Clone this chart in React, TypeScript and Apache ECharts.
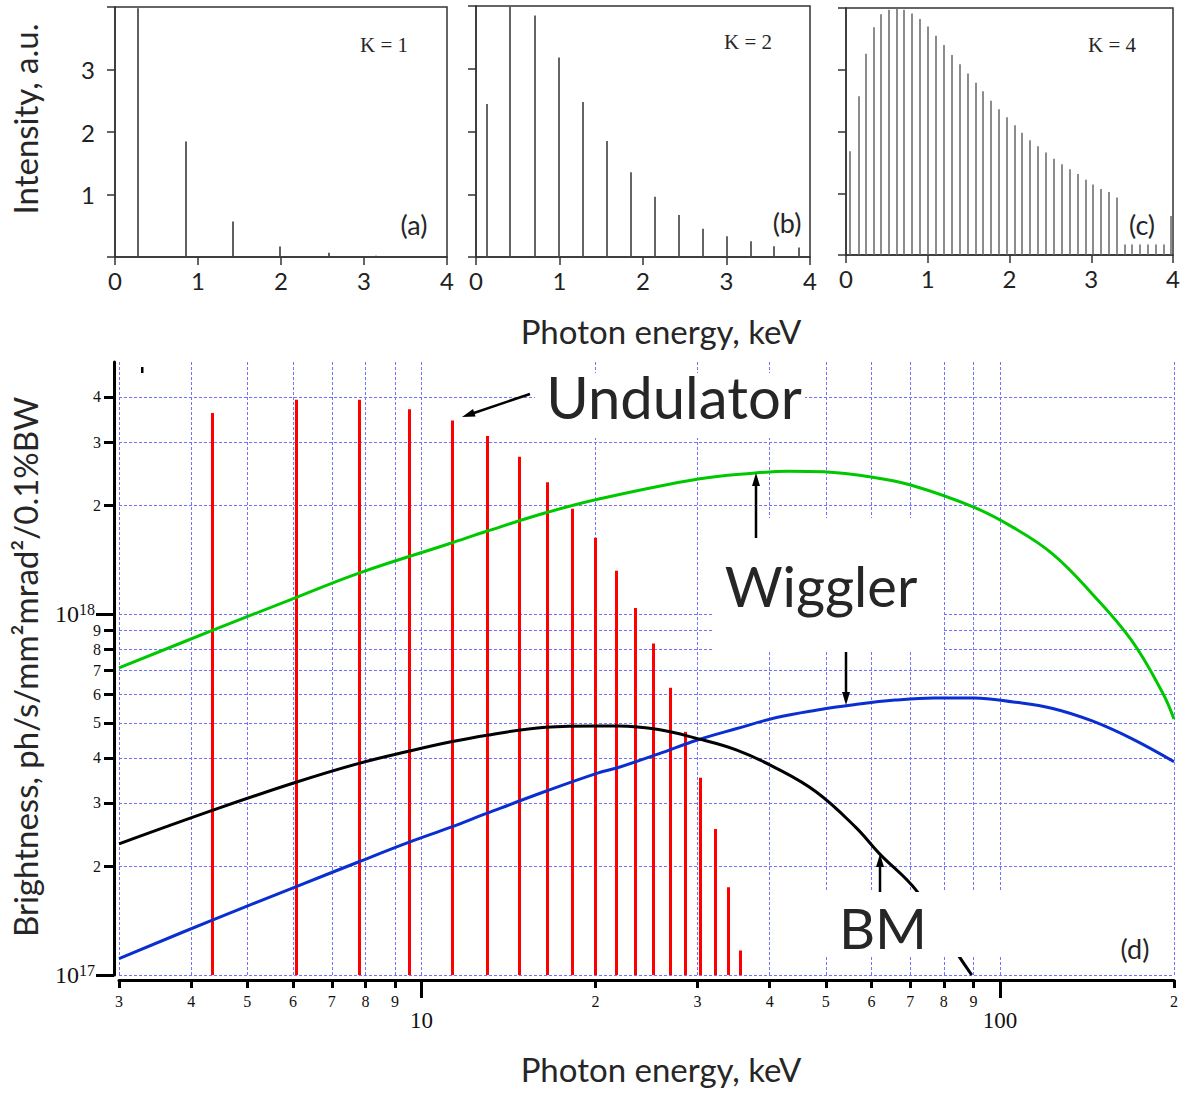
import React, { useEffect, useRef } from 'react';
import * as echarts from 'echarts';

// ---------- top panels (a), (b), (c) ----------
const topTicks = [0, 1, 2, 3, 4];
const aE = [0.28, 0.85, 1.42, 1.99, 2.57, 3.14];
const aI = [3.98, 1.85, 0.57, 0.17, 0.07, 0.02];
const bE = [0.13, 0.41, 0.70, 0.99, 1.28, 1.57, 1.85, 2.14, 2.43, 2.71, 3.0, 3.29, 3.57, 3.86];
const bI = [2.44, 3.99, 3.85, 3.18, 2.47, 1.85, 1.35, 0.96, 0.67, 0.45, 0.33, 0.25, 0.17, 0.15];
const cE = [0.049, 0.151, 0.241, 0.335, 0.424, 0.522, 0.616, 0.710, 0.808, 0.906, 1.004, 1.098, 1.196, 1.294, 1.392, 1.486, 1.584, 1.678, 1.771, 1.869, 1.967, 2.061, 2.155, 2.253, 2.351, 2.445, 2.547, 2.641, 2.735, 2.833, 2.927, 3.024, 3.118, 3.212, 3.306, 3.404, 3.498, 3.592, 3.690, 3.788, 3.886, 3.967];
const cI = [1.68, 2.57, 3.26, 3.69, 3.90, 3.97, 3.99, 3.97, 3.91, 3.82, 3.70, 3.55, 3.40, 3.24, 3.09, 2.94, 2.79, 2.65, 2.50, 2.36, 2.23, 2.10, 1.98, 1.86, 1.76, 1.66, 1.56, 1.47, 1.39, 1.31, 1.22, 1.14, 1.07, 1.02, 0.93, 0.17, 0.17, 0.17, 0.17, 0.17, 0.17, 0.63];

// ---------- bottom panel (d) ----------
const xTickValues = [3, 4, 5, 6, 7, 8, 9, 10, 20, 30, 40, 50, 60, 70, 80, 90, 100, 200];
const xMajor = [10, 100];
const yTickValues = [1e17, 2e17, 3e17, 4e17, 5e17, 6e17, 7e17, 8e17, 9e17, 1e18, 2e18, 3e18, 4e18, 5e18];
const yMajor = [1e17, 1e18];

const undE = [4.34, 6.07, 7.80, 9.54, 11.29, 13.02, 14.76, 16.47, 18.24, 19.96, 21.68, 23.45, 25.16, 26.92, 28.58, 30.28, 32.16, 33.92, 35.61];
const undPeak = [3.61e18, 3.93e18, 3.93e18, 3.70e18, 3.44e18, 3.12e18, 2.73e18, 2.32e18, 1.96e18, 1.63e18, 1.32e18, 1.04e18, 8.3e17, 6.25e17, 4.72e17, 3.52e17, 2.54e17, 1.75e17, 1.17e17];

const greenE = [3, 4.34, 6.05, 7.8, 11.2, 13.0, 16.4, 20.1, 30.1, 37.4, 43.1, 49.6, 59.9, 70.1, 90.1, 105.4, 123.3, 144.3, 168.8, 191.3, 200];
const greenB = [7.1e17, 9.0e17, 1.11e18, 1.30e18, 1.57e18, 1.70e18, 1.91e18, 2.08e18, 2.37e18, 2.46e18, 2.49e18, 2.48e18, 2.40e18, 2.28e18, 1.98e18, 1.74e18, 1.47e18, 1.14e18, 8.47e17, 6.04e17, 5.12e17];

const blackE = [3, 4.35, 6.03, 7.8, 9.5, 11.25, 13.0, 16.4, 20.1, 21.9, 25.7, 30.0, 35.1, 41.1, 48.1, 56.3, 61.9, 71.8, 84.9, 89.4];
const blackB = [2.31e17, 2.86e17, 3.41e17, 3.86e17, 4.17e17, 4.43e17, 4.62e17, 4.86e17, 4.90e17, 4.90e17, 4.79e17, 4.52e17, 4.20e17, 3.74e17, 3.22e17, 2.57e17, 2.17e17, 1.71e17, 1.13e17, 1.0e17];

const blueE = [3, 4.35, 6.03, 7.8, 9.5, 11.25, 13.0, 16.4, 20.1, 21.9, 25.7, 30.0, 35.1, 41.1, 48.1, 56.3, 65.9, 77.0, 90.2, 105.5, 123.4, 144.4, 169, 200];
const blueB = [1.11e17, 1.42e17, 1.75e17, 2.06e17, 2.33e17, 2.57e17, 2.81e17, 3.23e17, 3.62e17, 3.76e17, 4.10e17, 4.48e17, 4.82e17, 5.17e17, 5.42e17, 5.62e17, 5.78e17, 5.86e17, 5.86e17, 5.71e17, 5.48e17, 5.06e17, 4.52e17, 3.90e17];

const SANS = 'Lato';
const SERIF = 'Liberation Serif';
const TXT = '#262626';

function leadDigit(v: number): number {
  const p = Math.pow(10, Math.floor(Math.log10(v) + 1e-9));
  return Math.round(v / p);
}
function isNear(v: number, t: number) {
  return Math.abs(v - t) / t < 1e-6;
}

function buildOption(): any {
  const gridsTop = [
    { left: 115, top: 7, width: 332, height: 250 },
    { left: 476, top: 6, width: 334, height: 251 },
    { left: 846, top: 8, width: 327, height: 247 },
  ];
  const grids: any[] = gridsTop.map((g) => ({
    ...g,
    show: true,
    borderColor: '#333',
    borderWidth: 1.5,
    backgroundColor: 'transparent',
  }));
  grids.push({ left: 119, top: 362, width: 1055, height: 613 });

  const xAxes: any[] = [];
  const yAxes: any[] = [];
  for (let i = 0; i < 3; i++) {
    xAxes.push({
      type: 'value',
      gridIndex: i,
      min: topTicks[0],
      max: topTicks[topTicks.length - 1],
      interval: 1,
      axisLine: { show: true, lineStyle: { color: '#333', width: 1.5 } },
      axisTick: { show: true, length: 8, lineStyle: { color: '#333', width: 1.5 } },
      axisLabel: { fontSize: 24, fontFamily: SANS, color: '#222', margin: 11 },
      splitLine: { show: false },
    });
    yAxes.push({
      type: 'value',
      gridIndex: i,
      min: 0,
      max: 4,
      interval: 1,
      axisLine: { show: true, lineStyle: { color: '#333', width: 1.5 } },
      axisTick: { show: true, length: 8, lineStyle: { color: '#333', width: 1.5 } },
      axisLabel: {
        show: i === 0,
        fontSize: 24,
        fontFamily: SANS,
        color: '#222',
        margin: 20,
        formatter: (v: number) => (v >= 1 && v <= 3 ? String(v) : ''),
      },
      splitLine: { show: false },
    });
  }

  const gridLineStyle = { color: '#7373ff', type: [3, 2], width: 1 };

  // main x axis (index 3)
  xAxes.push({
    type: 'log',
    logBase: 10,
    gridIndex: 3,
    min: 3,
    max: 200,
    position: 'bottom',
    offset: 5,
    axisLine: { show: true, lineStyle: { color: '#000', width: 3 } },
    axisTick: { show: true, customValues: xTickValues, length: 8, lineStyle: { color: '#000', width: 3 } },
    axisLabel: {
      customValues: xTickValues,
      margin: 13,
      fontSize: 16,
      fontFamily: SERIF,
      color: '#111',
      formatter: (v: number) => {
        if (isNear(v, 10) || isNear(v, 100)) return '{b|' + Math.round(v) + '}';
        return '{s|' + leadDigit(v) + '}';
      },
      rich: {
        s: { fontSize: 16, fontFamily: SERIF, color: '#111' },
        b: { fontSize: 23, fontFamily: SERIF, color: '#111', padding: [16, 0, 0, 0] },
      },
    },
    splitLine: { show: true, lineStyle: gridLineStyle },
  });
  // long ticks at decades (index 4)
  xAxes.push({
    type: 'log',
    logBase: 10,
    gridIndex: 3,
    min: 3,
    max: 200,
    position: 'bottom',
    offset: 5,
    axisLine: { show: false },
    axisTick: { show: true, customValues: xMajor, length: 18, lineStyle: { color: '#000', width: 3 } },
    axisLabel: { show: false },
    splitLine: { show: false },
  });

  yAxes.push({
    type: 'log',
    logBase: 10,
    gridIndex: 3,
    min: 1e17,
    max: 5e18,
    position: 'left',
    offset: 5,
    axisLine: { show: true, lineStyle: { color: '#000', width: 3 } },
    axisTick: { show: true, customValues: yTickValues, length: 10, lineStyle: { color: '#000', width: 3 } },
    axisLabel: {
      customValues: yTickValues,
      margin: 13,
      fontSize: 16,
      fontFamily: SERIF,
      color: '#111',
      formatter: (v: number) => {
        if (isNear(v, 1e17)) return '{b|10}{u|17}';
        if (isNear(v, 1e18)) return '{b|10}{u|18}';
        return '{s|' + leadDigit(v) + '}';
      },
      rich: {
        s: { fontSize: 16, fontFamily: SERIF, color: '#111' },
        b: { fontSize: 24, fontFamily: SERIF, color: '#111', lineHeight: 26 },
        u: { fontSize: 16, fontFamily: SERIF, color: '#111', verticalAlign: 'top', lineHeight: 17, padding: [0, 6, 0, 0] },
      },
    },
    splitLine: { show: true, lineStyle: gridLineStyle },
  });
  yAxes.push({
    type: 'log',
    logBase: 10,
    gridIndex: 3,
    min: 1e17,
    max: 5e18,
    position: 'left',
    offset: 5,
    axisLine: { show: false },
    axisTick: { show: true, customValues: yMajor, length: 18, lineStyle: { color: '#000', width: 3 } },
    axisLabel: { show: false },
    splitLine: { show: false },
  });

  const spikeSeries = (E: number[], I: number[], idx: number, color: string, width: number) => ({
    type: 'lines',
    coordinateSystem: 'cartesian2d',
    xAxisIndex: idx,
    yAxisIndex: idx,
    silent: true,
    lineStyle: { color, width, opacity: 1 },
    data: E.map((e, k) => ({ coords: [[e, 0], [e, I[k]]] })),
  });

  const series: any[] = [
    spikeSeries(aE, aI, 0, '#444', 1.7),
    spikeSeries(bE, bI, 1, '#4a4a4a', 1.7),
    spikeSeries(cE, cI, 2, '#666', 1.5),
    {
      type: 'lines',
      coordinateSystem: 'cartesian2d',
      xAxisIndex: 3,
      yAxisIndex: 3,
      silent: true,
      lineStyle: { color: '#ff0000', width: 3, opacity: 1 },
      data: undE.map((e, k) => ({ coords: [[e, 1e17], [e, undPeak[k]]] })),
    },
    {
      type: 'line',
      xAxisIndex: 3,
      yAxisIndex: 3,
      showSymbol: false,
      smooth: 0.4,
      lineStyle: { color: '#00c800', width: 3 },
      data: greenE.map((e, k) => [e, greenB[k]]),
    },
    {
      type: 'line',
      xAxisIndex: 3,
      yAxisIndex: 3,
      showSymbol: false,
      smooth: 0.4,
      lineStyle: { color: '#0a2fd0', width: 3 },
      data: blueE.map((e, k) => [e, blueB[k]]),
    },
    {
      type: 'line',
      xAxisIndex: 3,
      yAxisIndex: 3,
      showSymbol: false,
      smooth: 0.4,
      lineStyle: { color: '#000', width: 3 },
      data: blackE.map((e, k) => [e, blackB[k]]),
    },
  ];

  const txt = (text: string, x: number, y: number, size: number, family = SANS, extra: any = {}) => ({
    type: 'text',
    x,
    y,
    z: 101,
    silent: true,
    ...extra,
    style: {
      text,
      fill: TXT,
      font: `${size}px "${family}"`,
      textAlign: 'center',
      textVerticalAlign: 'middle',
    },
  });
  const whiteBox = (x: number, y: number, w: number, h: number) => ({
    type: 'rect',
    z: 100,
    silent: true,
    shape: { x, y, width: w, height: h },
    style: { fill: '#fff' },
  });
  const arrow = (x1: number, y1: number, x2: number, y2: number) => {
    const dx = x2 - x1;
    const dy = y2 - y1;
    const len = Math.sqrt(dx * dx + dy * dy);
    const ux = dx / len;
    const uy = dy / len;
    const hl = 13;
    const hw = 4;
    const bx = x2 - ux * hl;
    const by = y2 - uy * hl;
    return [
      {
        type: 'line',
        z: 102,
        silent: true,
        shape: { x1, y1, x2: bx + ux * 2, y2: by + uy * 2 },
        style: { stroke: '#000', lineWidth: 2.5 },
      },
      {
        type: 'polygon',
        z: 102,
        silent: true,
        shape: {
          points: [
            [x2, y2],
            [bx - uy * hw, by + ux * hw],
            [bx + uy * hw, by - ux * hw],
          ],
        },
        style: { fill: '#000' },
      },
    ];
  };

  const graphic: any[] = [
    txt('Intensity, a.u.', 25, 119, 33, SANS, { rotation: Math.PI / 2 }),
    txt('Photon energy, keV', 661, 331, 33),
    txt('Photon energy, keV', 661, 1069, 33),
    txt('Brightness, ph/s/mm\u00b2mrad\u00b2/0.1%BW', 25, 667, 33, SANS, { rotation: Math.PI / 2 }),
    txt('K = 1', 384, 45, 21, SERIF),
    txt('K = 2', 748, 42, 21, SERIF),
    txt('K = 4', 1112, 45, 21, SERIF),
    txt('(a)', 414, 224, 27),
    txt('(b)', 787, 222, 27),
    txt('(c)', 1142, 224, 27),
    whiteBox(535, 373, 270, 65),
    whiteBox(712, 518, 232, 134),
    whiteBox(790, 892, 380, 65),
    txt('Undulator', 674, 396, 58),
    txt('Wiggler', 821, 585, 56),
    txt('BM', 883, 927, 56),
    txt('(d)', 1135, 948, 27),
    ...arrow(530, 394, 462, 417),
    ...arrow(756, 538, 756, 473),
    ...arrow(846, 652, 846, 705),
    ...arrow(880, 892, 880, 854),
    {
      type: 'rect',
      z: 102,
      silent: true,
      shape: { x: 141, y: 367, width: 2.5, height: 6 },
      style: { fill: '#000' },
    },
  ];

  return {
    animation: false,
    backgroundColor: '#fff',
    grid: grids,
    xAxis: xAxes,
    yAxis: yAxes,
    series,
    graphic,
  };
}

export default function App() {
  const ref = useRef<HTMLDivElement>(null);
  useEffect(() => {
    if (!ref.current) return;
    const chart = echarts.init(ref.current, undefined, { renderer: 'svg' });
    chart.setOption(buildOption());
    return () => chart.dispose();
  }, []);
  return <div ref={ref} style={{ width: 1198, height: 1093, position: 'absolute', left: 0, top: 0 }} />;
}
